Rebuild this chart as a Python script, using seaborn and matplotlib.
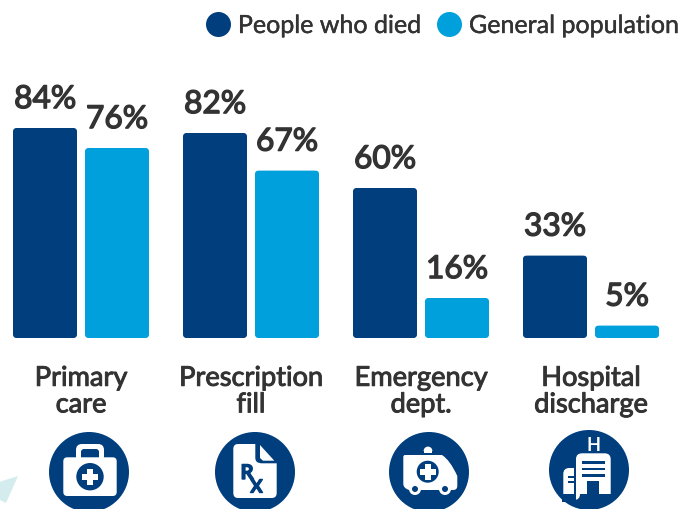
import matplotlib
matplotlib.use("Agg")
import matplotlib.pyplot as plt
import matplotlib.patches as mp
import matplotlib.patheffects as pe
from matplotlib.path import Path
from matplotlib.lines import Line2D
import pandas as pd
import seaborn as sns

categories = ["Primary\ncare", "Prescription\nfill", "Emergency\ndept.", "Hospital\ndischarge"]
series_names = ["People who died", "General population"]
people_who_died = [84, 82, 60, 33]
general_population = [76, 67, 16, 5]

NAVY = "#003E7E"
BLUE = "#00A0DC"
INK = "#333333"
FONT = "Lato"

W, H = 680, 509
sns.set_theme(style="white")
plt.rcParams["font.family"] = [FONT, "DejaVu Sans"]

df = pd.DataFrame({
    "category": categories * 2,
    "series": [series_names[0]] * 4 + [series_names[1]] * 4,
    "value": people_who_died + general_population,
})

fig = plt.figure(figsize=(W / 100, H / 100), dpi=100)
fig.patch.set_facecolor("white")
px = fig.add_axes([0, 0, 1, 1], zorder=0)
px.set_xlim(0, W); px.set_ylim(H, 0); px.axis("off")

ax = fig.add_axes([0, (H - 338) / H, 1, 250 / H], zorder=1)
ax.patch.set_alpha(0)
sns.barplot(data=df, x="category", y="value", hue="series", order=categories,
            hue_order=series_names, palette=[NAVY, BLUE], width=144 / 170, gap=1 - 64 / 72,
            saturation=1, errorbar=None, ax=ax, legend=False, linewidth=0, edgecolor="none")
ax.set_xlim(-81 / 170, (W - 81) / 170)
ax.set_ylim(0, 100)
ax.set_xlabel(""); ax.set_ylabel(""); ax.set_yticks([])
for s in ax.spines.values():
    s.set_visible(False)
ax.tick_params(axis="x", length=0, pad=20)
thick = [pe.withStroke(linewidth=0.7, foreground=INK)]
for t in ax.get_xticklabels():
    t.set_fontsize(19.6); t.set_color(INK); t.set_linespacing(1.08)
    t.set_path_effects(thick)

for cont in ax.containers:
    labels = ax.bar_label(cont, fmt="%g%%", padding=10, fontsize=22.8, color=INK)
    for lab in labels:
        lab.set_path_effects([pe.withStroke(linewidth=1.0, foreground=INK)])
    for bar in cont:
        bar.set_snap(False)
        x0, y0 = ax.transData.transform((bar.get_x(), 0))
        x1, y1 = ax.transData.transform((bar.get_x() + bar.get_width(), bar.get_height()))
        x0 -= 0.3; x1 += 0.3; y0 -= 0.3; y1 += 0.3
        r = 5
        clip = mp.FancyBboxPatch((x0 + r, y0 + r), x1 - x0 - 2 * r, max(y1 - y0 - 2 * r, 0.1),
                                 boxstyle=f"round,pad={r},rounding_size={r}",
                                 transform=matplotlib.transforms.IdentityTransform())
        bar.set_clip_path(clip)

handles = [Line2D([], [], marker="o", ls="", ms=18, mfc=c, mec="none") for c in (NAVY, BLUE)]
leg = fig.legend(handles, series_names, loc="upper right", bbox_to_anchor=(0.998, 1 - 14 / H),
                 ncol=2, frameon=False, fontsize=18.0, labelcolor=INK, handlelength=1.0,
                 handletextpad=0.3, columnspacing=0.62, borderaxespad=0, borderpad=0)
for t in leg.get_texts():
    t.set_path_effects([pe.withStroke(linewidth=0.3, foreground=INK)])

def rrect(x0, y0, x1, y1, r, fc):
    px.add_patch(mp.FancyBboxPatch((x0 + r, y0 + r), x1 - x0 - 2 * r, y1 - y0 - 2 * r,
                                   boxstyle=f"round,pad={r},rounding_size={r}", fc=fc, ec="none"))
def rect(x0, y0, x1, y1, fc):
    px.add_patch(mp.Rectangle((x0, y0), x1 - x0, y1 - y0, fc=fc, ec="none"))
def circ(x, y, r, fc):
    px.add_patch(mp.Circle((x, y), r, fc=fc, ec="none"))
def plus(x, y, a, t, fc):
    rect(x - a, y - t, x + a, y + t, fc)
    rect(x - t, y - a, x + t, y + a, fc)
def poly(pts, fc):
    px.add_patch(mp.Polygon(pts, closed=True, fc=fc, ec="none"))

poly([(0, 481.7), (18, 476), (6, 503), (0, 500)], "#D5ECEE")

# medical bag
circ(89, 472, 40, NAVY)
rrect(76, 444, 104, 462, 6, "white")
rrect(81, 449, 99, 462, 3, NAVY)
rrect(63.3, 457.3, 116.7, 496, 4, "white")
circ(90, 476.7, 13.7, NAVY)
plus(90, 476.7, 8, 2.8, "white")

# prescription
circ(255, 472, 40, NAVY)
px.add_patch(mp.PathPatch(Path(
    [(238, 444), (255.3, 444), (255.3, 458), (255.3, 463.3), (262, 463.3), (276.7, 463.3), (276.7, 493),
     (276.7, 498), (271.7, 498), (238, 498), (233.3, 498), (233.3, 493), (233.3, 449), (233.3, 444), (238, 444)],
    [1, 2, 2, 3, 3, 2, 2, 3, 3, 2, 3, 3, 2, 3, 3]), fc="white", ec="none"))
poly([(260, 445), (274.3, 460.7), (263, 460.7), (260, 458)], "white")
rx_stroke = [pe.withStroke(linewidth=1.0, foreground=NAVY)]
px.text(247, 473, "R", color=NAVY, fontsize=14.5, fontweight="bold", ha="center", va="center",
        path_effects=rx_stroke)
px.text(256.5, 487, "X", color=NAVY, fontsize=13, fontweight="bold", ha="center", va="center",
        path_effects=rx_stroke)

# ambulance
circ(429, 472, 40, NAVY)
px.add_patch(mp.Wedge((428, 451), 4.4, 180, 360, fc="white", ec="none"))
rect(423.6, 451, 432.4, 453, "white")
px.add_patch(mp.PathPatch(Path(
    [(405, 455), (442, 455), (450, 460), (457.3, 476), (457.3, 486), (457.3, 490), (453, 490),
     (409, 490), (403.3, 488), (403.3, 484), (403.3, 457), (403.3, 455), (405, 455)],
    [1, 2, 3, 3, 2, 3, 3, 2, 3, 3, 2, 3, 3]), fc="white", ec="none"))
rect(412, 489, 450, 495, NAVY)
rect(418, 488, 442, 490, "white")
for xw in (415, 445):
    circ(xw, 489, 6, "white")
    circ(xw, 489, 3, NAVY)
circ(427.7, 471.7, 11, NAVY)
plus(427.7, 471.7, 8, 2.8, "white")

# hospital
circ(589, 470, 40, NAVY)
px.text(593.5, 445.5, "H", color="white", fontsize=13, fontweight="bold", ha="center", va="center")
rrect(576, 453.3, 610.7, 500, 6, "white")
rect(576, 494, 611, 502, NAVY)
rect(587.3, 480.7, 599.3, 494, NAVY)
for y in (461.3, 467.7, 474.3):
    rect(582, y, 605.3, y + 2.3, NAVY)
rrect(563.3, 468, 580, 500, 6, "white")
rect(574, 466, 576, 496, NAVY)
rect(562, 494, 576, 502, NAVY)
for y in (476, 481):
    rect(568.3, y, 574, y + 1.5, NAVY)

fig.savefig("out.png", dpi=100, facecolor="white")
